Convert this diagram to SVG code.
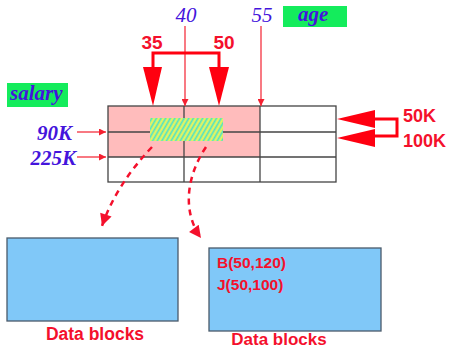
<svg xmlns="http://www.w3.org/2000/svg" width="451" height="350" viewBox="0 0 451 350">
<style>
.blue{font-family:"Liberation Serif",serif;font-style:italic;fill:#4414dc;font-size:21px}
.bb{font-weight:bold}
.red{font-family:"Liberation Sans",Arial,sans-serif;font-weight:bold;fill:#f4102c}
.grid{fill:none;stroke:#444;stroke-width:1.3}
.tag{fill:#14ec5c}
.blk{fill:#80c8f8;stroke:#4a5a6a;stroke-width:1.3}
.thin{stroke:#f42030;stroke-width:1.2;fill:none}
.dash{stroke:#f4102c;stroke-width:2.5;fill:none;stroke-dasharray:6,5}
</style>
<defs>
<pattern id="hatch" width="4" height="4" patternUnits="userSpaceOnUse" patternTransform="rotate(-60)">
<rect width="4" height="4" fill="#a8f088"/>
<rect width="4" height="1.3" fill="#f0f45a"/>
<rect y="2" width="4" height="1.1" fill="#50e0c8"/>
</pattern>
<marker id="sm" viewBox="0 0 10 10" refX="10" refY="5" markerWidth="12" markerHeight="7" markerUnits="userSpaceOnUse" orient="auto">
<path d="M0,0L10,5L0,10z" fill="#f42030"/>
</marker>
<marker id="dm" viewBox="0 0 10 10" refX="10" refY="5" markerWidth="18" markerHeight="12" markerUnits="userSpaceOnUse" orient="auto">
<path d="M0,0L10,5L0,10z" fill="#f4102c"/>
</marker>
</defs>

<g id="grid">
<rect x="108" y="106" width="152" height="51" fill="#ffbcbc"/>
<rect x="150" y="118" width="73" height="23" fill="url(#hatch)"/>
<rect class="grid" x="108" y="106" width="228" height="76"/>
<line class="grid" x1="184" y1="106" x2="184" y2="118"/>
<line class="grid" x1="184" y1="141" x2="184" y2="182"/>
<line class="grid" x1="260" y1="106" x2="260" y2="182"/>
<line class="grid" x1="108" y1="132" x2="150" y2="132"/>
<line class="grid" x1="223" y1="132" x2="336" y2="132"/>
<line class="grid" x1="108" y1="157" x2="336" y2="157"/>
</g>

<g id="age">
<rect class="tag" x="283" y="6" width="64" height="21"/>
<text class="blue bb" x="298" y="21" font-size="20">age</text>
</g>
<g id="salary">
<rect class="tag" x="7" y="83" width="61" height="24"/>
<text class="blue bb" x="10" y="100" font-size="20">salary</text>
</g>

<g id="labels">
<text class="blue" x="186" y="22" text-anchor="middle">40</text>
<text class="blue" x="262" y="22" text-anchor="middle">55</text>
<text class="blue bb" x="72" y="140" text-anchor="end">90K</text>
<text class="blue bb" x="76" y="165" text-anchor="end">225K</text>
<text class="red" x="152" y="49" font-size="19" text-anchor="middle">35</text>
<text class="red" x="224" y="49" font-size="19" text-anchor="middle">50</text>
<text class="red" x="403" y="122" font-size="18">50K</text>
<text class="red" x="403" y="147" font-size="18">100K</text>
</g>

<g id="block1">
<rect class="blk" x="7" y="238" width="171" height="83"/>
<text class="red" x="95" y="340" font-size="17.5" text-anchor="middle">Data blocks</text>
</g>
<g id="block2">
<rect class="blk" x="209" y="248" width="172" height="83"/>
<text class="red" x="217" y="268" font-size="15.5">B(50,120)</text>
<text class="red" x="217" y="290" font-size="15.5">J(50,100)</text>
<text class="red" x="279" y="345" font-size="17" text-anchor="middle">Data blocks</text>
</g>

<g id="connectors">
<line class="thin" x1="185" y1="26" x2="185" y2="106" marker-end="url(#sm)"/>
<line class="thin" x1="261" y1="26" x2="261" y2="106" marker-end="url(#sm)"/>
<line class="thin" x1="77" y1="132" x2="106" y2="132" marker-end="url(#sm)"/>
<line class="thin" x1="77" y1="157" x2="106" y2="157" marker-end="url(#sm)"/>
<path d="M153,68V53H219V68" fill="none" stroke="#ff0010" stroke-width="3"/>
<polygon points="143,67 162,67 153,106" fill="#ff0010"/>
<polygon points="209,67 229,67 219,106" fill="#ff0010"/>
<path d="M374,119H397V136H374" fill="none" stroke="#ff0010" stroke-width="3"/>
<polygon points="337,119 375,110 375,128" fill="#ff0010"/>
<polygon points="337,138 375,129 375,147" fill="#ff0010"/>
<path class="dash" d="M152,147Q116,185 102,226" marker-end="url(#dm)"/>
<path class="dash" d="M206,147C184,180 184,215 201,238" marker-end="url(#dm)"/>
</g>
</svg>
